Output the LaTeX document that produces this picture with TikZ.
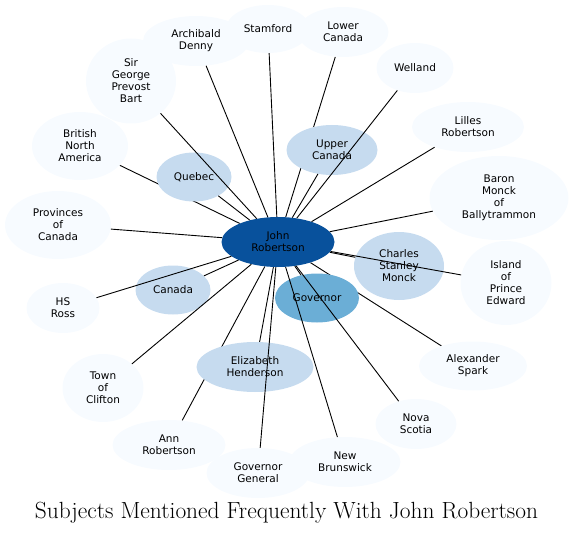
\documentclass[tikz,border=0pt]{standalone}
\usepackage{fontspec}
\setsansfont{DejaVu Sans}
\usetikzlibrary{shapes.geometric,backgrounds}
\definecolor{bla}{HTML}{F7FBFF}
\definecolor{blb}{HTML}{C6DBEF}
\definecolor{blc}{HTML}{6BAED6}
\definecolor{bld}{HTML}{08519C}
\tikzset{
  nd/.style={ellipse, inner sep=0pt, align=center, text=black,
    font=\sffamily\fontsize{10.5}{12}\selectfont},
  lt/.style={nd, fill=bla},
  md/.style={nd, fill=blb},
  gv/.style={nd, fill=blc},
  hub/.style={nd, fill=bld},
  sz/.style 2 args={minimum width=#1pt, minimum height=#2pt},
  edg/.style={draw=black, line width=0.9pt}
}
\begin{document}
\begin{tikzpicture}[x=1pt,y=-1pt]
\useasboundingbox (0,0) rectangle (574,535);
% light nodes
\node[lt, sz={106}{50}] (ad) at (196,41) {Archibald\\Denny};
\node[lt, sz={84}{48}] (st) at (268,29) {Stamford};
\node[lt, sz={90}{85}] (sg) at (131,81) {Sir\\George\\Prevost\\Bart};
\node[lt, sz={96}{68}] (bna) at (80,146) {British\\North\\America};
\node[lt, sz={106}{68}] (pc) at (58,225) {Provinces\\of\\Canada};
\node[lt, sz={91}{50}] (lc) at (343,32) {Lower\\Canada};
\node[lt, sz={77}{50}] (we) at (415,68) {Welland};
\node[lt, sz={112}{50}] (lr) at (468,127) {Lilles\\Robertson};
\node[lt, sz={139}{84}] (bm) at (499,198) {Baron\\Monck\\of\\Ballytrammon};
\node[lt, sz={91}{84}] (ip) at (506,283) {Island\\of\\Prince\\Edward};
\node[lt, sz={108}{49}] (as) at (473,366) {Alexander\\Spark};
\node[lt, sz={81}{50}] (ns) at (416,424) {Nova\\Scotia};
\node[lt, sz={103}{50}] (gg) at (258,473) {Governor\\General};
\node[lt, sz={111}{50}] (nb) at (345,462) {New\\Brunswick};
\node[lt, sz={73}{50}] (hs) at (63,308) {HS\\Ross};
\node[lt, sz={81}{68}] (tc) at (103,388) {Town\\of\\Clifton};
\node[lt, sz={113}{50}] (ar) at (169,445) {Ann\\Robertson};
% medium nodes
\node[md, sz={75}{49}] (qu) at (194,177) {Quebec};
\node[md, sz={91}{50}] (uc) at (332,150) {Upper\\Canada};
\node[md, sz={90}{68}] (cs) at (399,266) {Charles\\Stanley\\Monck};
\node[md, sz={75}{49}] (ca) at (173,290) {Canada};
\node[md, sz={117}{50}] (eh) at (255,367) {Elizabeth\\Henderson};
\node[gv, sz={84}{49}] (gov) at (317,298) {Governor};
\node[hub, sz={113}{50}] (jr) at (278,242) {John\\Robertson};
% edges hidden behind nodes
\begin{pgfonlayer}{background}
\draw[edg] (jr) -- (bna);
\draw[edg] (jr) -- (lc);
\draw[edg] (jr) -- (ar);
\draw[edg] (jr) -- (as);
\end{pgfonlayer}
% edges drawn over nodes
\foreach \t in {ad,st,sg,pc,we,lr,bm,ip,ns,nb,hs,tc,gg,qu,uc,cs,ca,eh,gov}
  \draw[edg] (jr) -- (\t);
\node (title) at (286.5,513) {\fontsize{23.4}{28}\selectfont Subjects Mentioned Frequently With John Robertson};
\end{tikzpicture}
\end{document}
